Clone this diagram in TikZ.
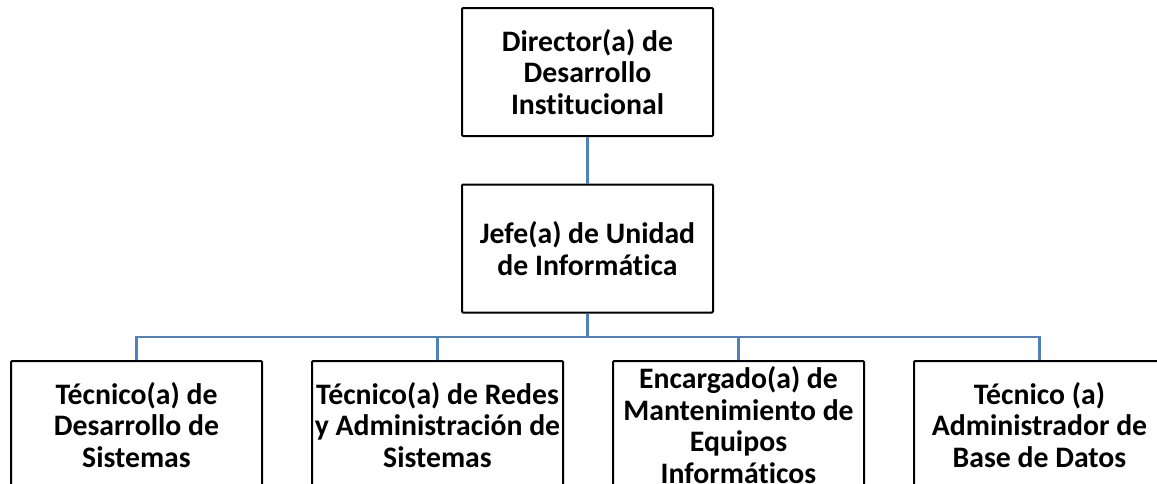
\documentclass[tikz,border=0pt]{standalone}
\usepackage{fontspec}
\setmainfont{Carlito}[Ligatures=NoCommon]
\definecolor{linkblue}{RGB}{79,129,189}
\begin{document}
\begin{tikzpicture}[x=0.75pt,y=-0.75pt,
  orgbox/.style={draw=black,line width=1.5pt,fill=white,rounded corners=0.8pt,
    minimum width=188.25pt,minimum height=96pt,inner sep=0pt,align=center,
    font=\fontsize{22.3}{23.8}\selectfont\bfseries},
  link/.style={draw=linkblue,line width=2pt}]
\useasboundingbox (0,0) rectangle (1157,483);
\clip (0,0) rectangle (1157,483);
\fill[white] (0,0) rectangle (1157,483);
\node[orgbox] (dir) at (587.5,72) {Director(a) de\\Desarrollo\\Institucional};
\node[orgbox] (jefe) at (587.5,248.5) {Jefe(a) de Unidad\\de Informática};
\node[orgbox] (c1) at (136.5,425) {Técnico(a) de\\Desarrollo de\\Sistemas};
\node[orgbox] (c2) at (437.5,425) {Técnico(a) de Redes\\y Administración de\\Sistemas};
\node[orgbox] (c3) at (738.5,425) {Encargado(a) de\\Mantenimiento de\\Equipos\\Informáticos};
\node[orgbox] (c4) at (1039.5,425) {Técnico (a)\\Administrador de\\Base de Datos};
\coordinate (bus) at (587.5,337);
\draw[link] (dir.south) -- (jefe.north);
\draw[link] (jefe.south) -- (bus);
\draw[link] (bus) -| (c1.north);
\draw[link] (bus) -| (c2.north);
\draw[link] (bus) -| (c3.north);
\draw[link] (bus) -| (c4.north);
\end{tikzpicture}
\end{document}
